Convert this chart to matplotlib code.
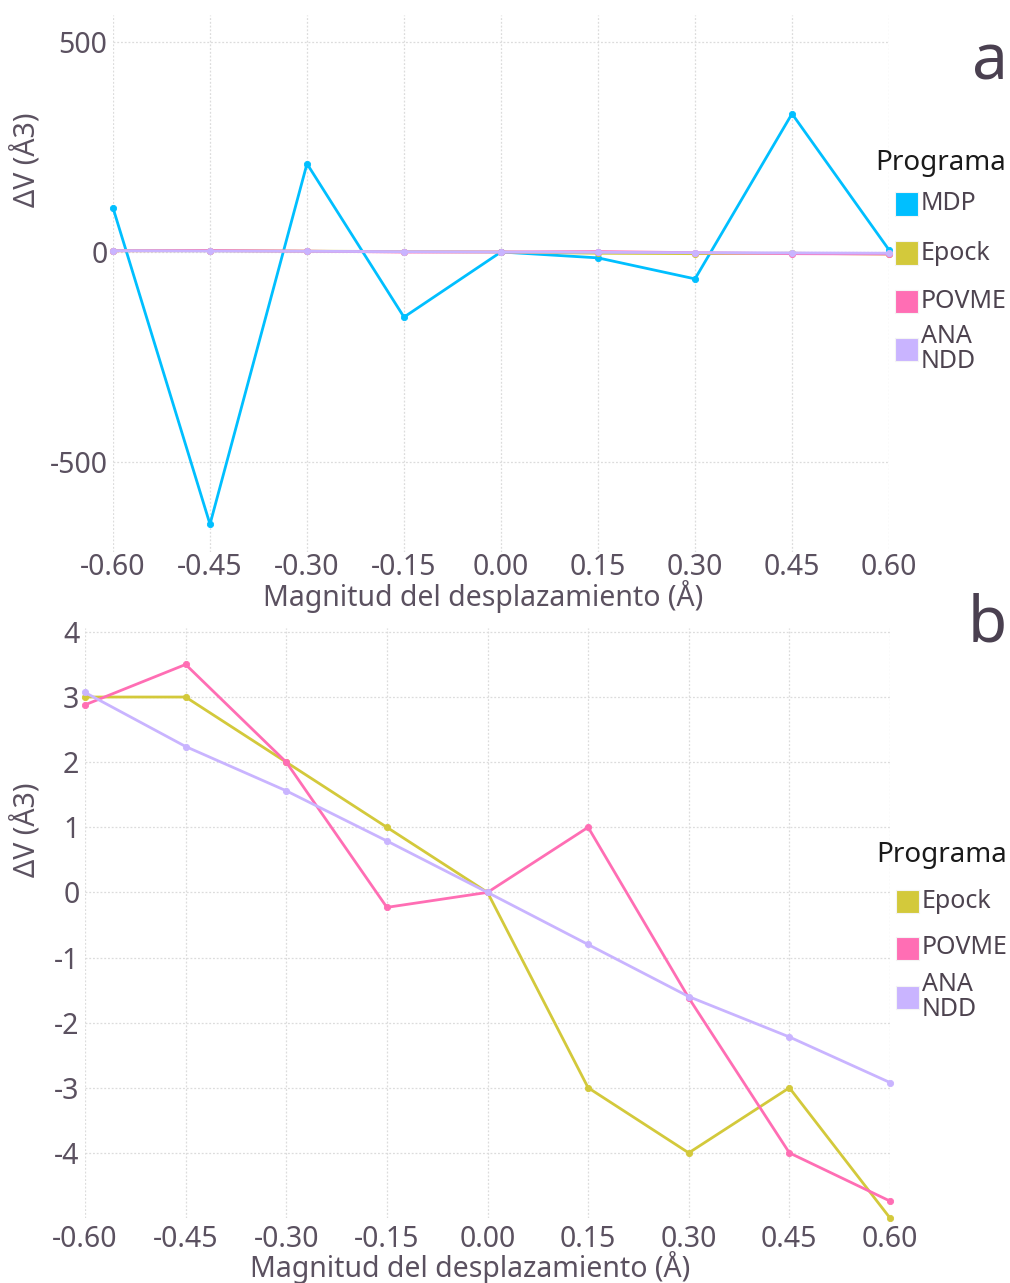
import matplotlib.pyplot as plt
from matplotlib.patches import Rectangle

# displacement magnitudes (Å)
disp = [-0.60, -0.45, -0.30, -0.15, 0.00, 0.15, 0.30, 0.45, 0.60]
tick_labels = ['-0.60', '-0.45', '-0.30', '-0.15', '0.00', '0.15', '0.30', '0.45', '0.60']

# volume change per program (Å3)
mdp = [105, -648, 210, -155, 0, -14, -64, 329, 5]
epock = [3, 3, 2, 1, 0, -3, -4, -3, -5]
povme = [2.88, 3.5, 2, -0.23, 0, 1, -1.62, -4, -4.74]
ananDD = [3.07, 2.24, 1.56, 0.79, 0, -0.8, -1.6, -2.22, -2.92]

colors = {'MDP': '#00bfff', 'Epock': '#d3c93b', 'POVME': '#ff6eb4', 'ANA\nNDD': '#c9b4ff'}
txt_col = '#5b5160'

plt.rcParams['font.family'] = ['Noto Sans', 'DejaVu Sans']
plt.rcParams['axes.unicode_minus'] = False

W, H = 1010, 1283
fig = plt.figure(figsize=(W / 100, H / 100), dpi=100)


def fx(x):
    return x / W


def fy(y):
    return 1 - y / H


def px_axes(l, t, r, b):
    return fig.add_axes([l / W, 1 - b / H, (r - l) / W, (b - t) / H])


def style(ax, yticks, xpad):
    for s in ax.spines.values():
        s.set_visible(False)
    ax.set_xlim(-0.6, 0.6)
    ax.set_xticks(disp)
    ax.set_xticklabels(tick_labels)
    ax.set_yticks(yticks)
    ax.tick_params(length=0, labelsize=20.5, colors=txt_col)
    ax.tick_params(axis='x', pad=xpad)
    ax.tick_params(axis='y', pad=4)
    ax.grid(True, color='#dcdcdc', lw=0.9, ls=(0, (1.5, 1.5)))
    ax.set_axisbelow(True)


def draw(ax, series):
    for name, vals in series:
        ax.plot(disp, vals, color=colors[name], lw=2, marker='o', ms=4.5,
                mec=colors[name], mew=0.6, clip_on=False)


# legend box: title, then colour squares with names, row centres given in pixels
def legend(names, x, ytitle, rows):
    fig.text(fx(x), fy(ytitle), 'Programa', fontsize=20, color='#1a1a1a',
             ha='left', va='center')
    for n, yc in zip(names, rows):
        fig.patches.append(Rectangle((fx(x + 20), fy(yc + 11.5)), 23 / W, 23 / H,
                                     transform=fig.transFigure, facecolor=colors[n],
                                     edgecolor='#f4f4f4', lw=0.8))
        fig.text(fx(x + 46), fy(yc), n, fontsize=18, color='#4d434f',
                 ha='left', va='center', linespacing=1.05)


# panel a
ax1 = px_axes(113, 15, 889, 552)
draw(ax1, [('MDP', mdp), ('Epock', epock), ('POVME', povme), ('ANA\nNDD', ananDD)])
style(ax1, [-500, 0, 500], 1)
ax1.set_ylim(-714, 564)
legend(['MDP', 'Epock', 'POVME', 'ANA\nNDD'], 875, 163, [204, 253, 301, 349])
fig.text(fx(990), fy(62), 'a', fontsize=46, color='#4a4050', ha='center', va='center')
fig.text(fx(27), fy(160), 'ΔV (Å3)', fontsize=20.5, color=txt_col, rotation=90,
         ha='center', va='center')
fig.text(fx(483), fy(597), 'Magnitud del desplazamiento (Å)', fontsize=20.5,
         color=txt_col, ha='center', va='center')

# panel b
ax2 = px_axes(85, 628, 890, 1218)
draw(ax2, [('Epock', epock), ('POVME', povme), ('ANA\nNDD', ananDD)])
style(ax2, [-4, -3, -2, -1, 0, 1, 2, 3, 4], 5)
ax2.set_ylim(-5.0, 4.06)
legend(['Epock', 'POVME', 'ANA\nNDD'], 876, 855, [901, 948, 997])
fig.text(fx(987), fy(624), 'b', fontsize=46, color='#4a4050', ha='center', va='center')
fig.text(fx(27), fy(830), 'ΔV (Å3)', fontsize=20.5, color=txt_col, rotation=90,
         ha='center', va='center')
fig.text(fx(470), fy(1268), 'Magnitud del desplazamiento (Å)', fontsize=20.5,
         color=txt_col, ha='center', va='center')

fig.savefig('out.png', dpi=100)
